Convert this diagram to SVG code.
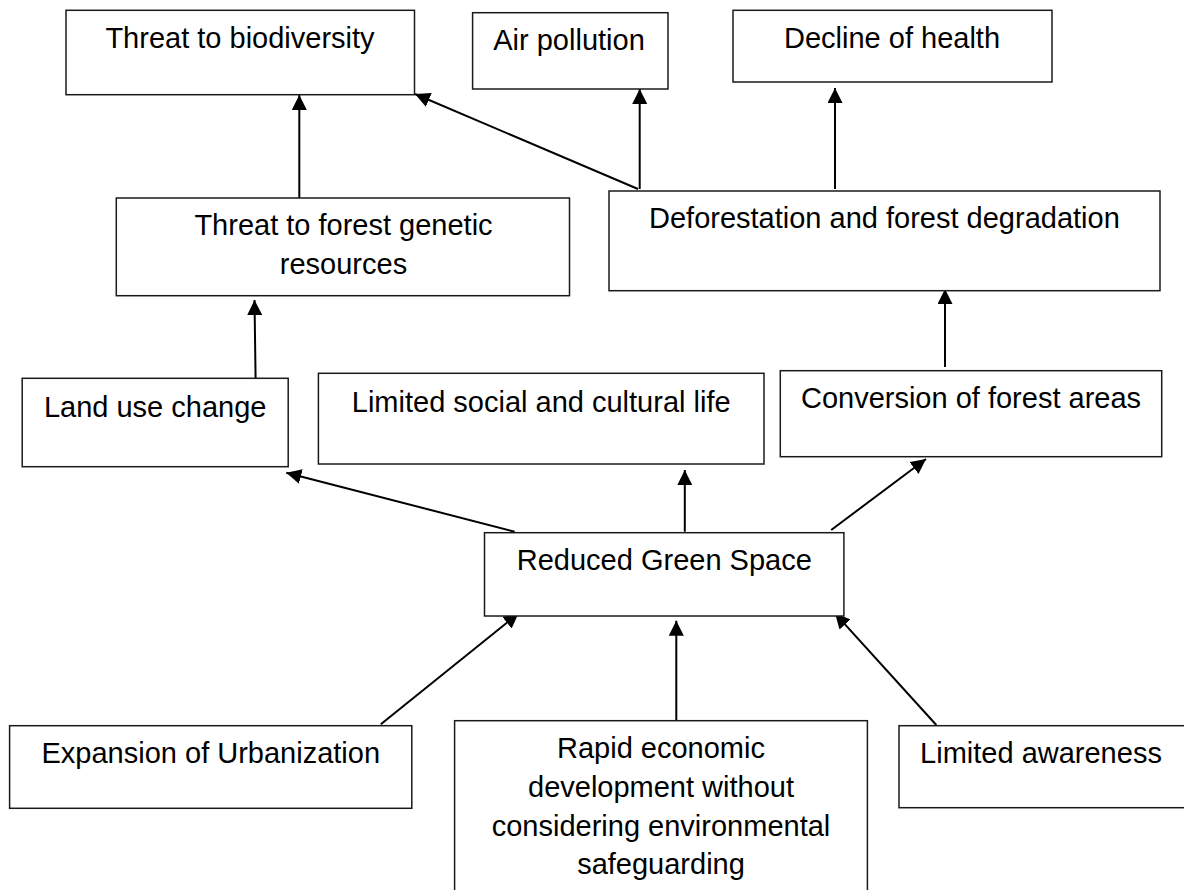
<svg xmlns="http://www.w3.org/2000/svg" width="1184" height="890" viewBox="0 0 1184 890">
<style>
.box{fill:#fff;stroke:#1a1a1a;stroke-width:1.5}
.t{font-family:"Liberation Sans",Arial,sans-serif;font-size:29px;fill:#000;text-anchor:middle}
.c{stroke:#000;stroke-width:2;fill:none;marker-end:url(#ah)}
</style>
<defs>
<marker id="ah" markerUnits="userSpaceOnUse" markerWidth="15" markerHeight="15" viewBox="0 0 15 15" refX="15" refY="7.5" orient="auto">
<path d="M0,0 L15,7.5 L0,15 z" fill="#000"/>
</marker>
</defs>
<rect width="1184" height="890" fill="#fff"/>
<g id="connectors">
<line class="c" x1="299.3" y1="198" x2="299.3" y2="95"/>
<line class="c" x1="638" y1="189" x2="415" y2="94"/>
<line class="c" x1="639.7" y1="189" x2="639.7" y2="89"/>
<line class="c" x1="835" y1="189" x2="835" y2="88"/>
<line class="c" x1="945" y1="367" x2="945" y2="289"/>
<line class="c" x1="255.6" y1="379" x2="254.5" y2="300"/>
<line class="c" x1="514.7" y1="531.7" x2="286.3" y2="472.7"/>
<line class="c" x1="684.8" y1="531.7" x2="684.8" y2="470"/>
<line class="c" x1="831.2" y1="530" x2="926" y2="459"/>
<line class="c" x1="380.8" y1="724.3" x2="518.6" y2="613.3"/>
<line class="c" x1="676.3" y1="720" x2="676.3" y2="620.7"/>
<line class="c" x1="936.3" y1="725" x2="835" y2="613.3"/>
</g>
<g id="n-biodiversity">
<rect class="box" x="66" y="10.3" width="348.5" height="84.4"/>
<text class="t" x="240" y="48.3">Threat to biodiversity</text>
</g>
<g id="n-air">
<rect class="box" x="472.6" y="12.7" width="195.4" height="76.3"/>
<text class="t" x="569" y="50">Air pollution</text>
</g>
<g id="n-health">
<rect class="box" x="733" y="10.3" width="319" height="71.7"/>
<text class="t" x="892" y="48.3">Decline of health</text>
</g>
<g id="n-genetic">
<rect class="box" x="116.3" y="198" width="453.2" height="97.7"/>
<text class="t" x="343.5" y="235">Threat to forest genetic</text>
<text class="t" x="343.5" y="274">resources</text>
</g>
<g id="n-deforestation">
<rect class="box" x="609" y="191" width="551" height="99.7"/>
<text class="t" x="884.4" y="227.7">Deforestation and forest degradation</text>
</g>
<g id="n-landuse">
<rect class="box" x="22.2" y="378.3" width="266" height="88.4"/>
<text class="t" x="155.2" y="416.7">Land use change</text>
</g>
<g id="n-social">
<rect class="box" x="318.4" y="373.3" width="445.6" height="90.7"/>
<text class="t" x="541.2" y="411.7">Limited social and cultural life</text>
</g>
<g id="n-conversion">
<rect class="box" x="780.3" y="370.7" width="381.4" height="86"/>
<text class="t" x="971" y="408.3">Conversion of forest areas</text>
</g>
<g id="n-green">
<rect class="box" x="484.5" y="532.7" width="359.4" height="83.3"/>
<text class="t" x="664.3" y="570">Reduced Green Space</text>
</g>
<g id="n-urbanization">
<rect class="box" x="9.6" y="725.7" width="402.2" height="82.6"/>
<text class="t" x="210.8" y="763.3">Expansion of Urbanization</text>
</g>
<g id="n-economic">
<rect class="box" x="454.6" y="720.7" width="412.8" height="190"/>
<text class="t" x="661" y="758.3">Rapid economic</text>
<text class="t" x="661" y="797">development without</text>
<text class="t" x="661" y="835.7">considering environmental</text>
<text class="t" x="661" y="874.4">safeguarding</text>
</g>
<g id="n-awareness">
<rect class="box" x="899" y="725.7" width="300" height="82"/>
<text class="t" x="1041" y="763.3">Limited awareness</text>
</g>
</svg>
